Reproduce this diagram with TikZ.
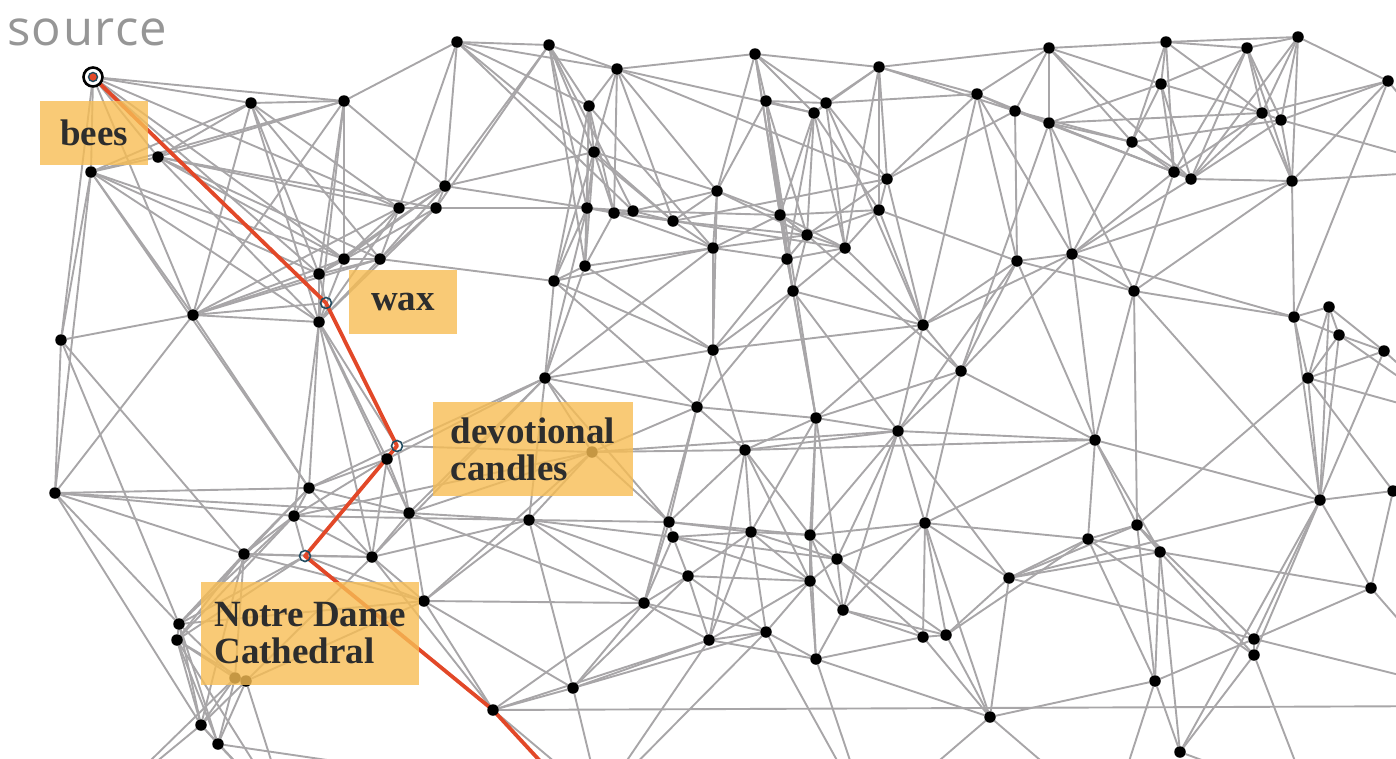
\documentclass[tikz,border=0pt]{standalone}
\usepackage{fontspec}
\setmainfont{Liberation Serif}
\newfontfamily\tagfont{Liberation Serif}
\newfontfamily\srcfont{Open Sans}[LetterSpace=3]
\usetikzlibrary{backgrounds}

\definecolor{linkgray}{RGB}{168,166,168}
\definecolor{routered}{RGB}{226,72,40}
\definecolor{tagfill}{RGB}{247,189,84}
\definecolor{tagtext}{RGB}{45,45,45}
\definecolor{srcgray}{RGB}{150,150,150}
\definecolor{ringteal}{RGB}{35,75,95}

\begin{document}
\begin{tikzpicture}[x=1pt, y=-1pt,
        dot/.style={circle, fill=black, minimum size=11.5pt, inner sep=0pt},
        hollow/.style={circle, draw=ringteal, line width=1.6pt, minimum size=11pt, inner sep=0pt},
        srcdot/.style={circle, draw=black, line width=2.6pt, fill=white, minimum size=19pt, inner sep=0pt,
                path picture={\draw[ringteal, line width=1.4pt, fill=routered] (path picture bounding box.center) circle (4.5pt);}},
        link/.style={draw=linkgray, line width=1.9pt},
        route/.style={draw=routered, line width=3.8pt, line join=round},
        tag/.style={fill=tagfill, fill opacity=0.8, text opacity=1, text=tagtext, inner sep=0pt,
                align=left, font=\tagfont\bfseries\fontsize{37}{37}\selectfont}]

    \useasboundingbox (0,0) rectangle (1396,758);

    % path nodes
    \node[srcdot] (s) at (93,77) {};
    \node[hollow] (w) at (326,303) {};
    \node[hollow] (dv) at (397,446) {};
    \node[hollow] (nd) at (305,556) {};
    \node[dot] (p1) at (493,710) {};
    \coordinate (rx) at (541,762);

    % all other nodes
    \foreach \n/\x/\y in {
            b1/251/103, b2/344/101, b3/158/157, b4/91/172, b5/445/186, b6/399/208, b7/436/208,
            b8/319/274, b9/344/259, b10/380/259, b11/319/322, b12/193/315, b13/61/340, b14/55/493,
            b15/387/459, b16/309/488, b17/294/516, b18/409/513, b19/244/554, b20/372/557, b21/424/601,
            b22/179/624, b23/177/640, b24/201/725, b25/218/744, k1/592/452, k2/235/678, k3/246/681,
            m1/457/42, m2/549/45, m3/617/69, m4/589/106, m5/594/152, m6/587/208, m7/614/213,
            m8/633/211, m9/673/221, m10/585/266, m11/554/281, m12/545/378, m13/529/520, m14/573/688,
            m15/644/603, m16/669/522, m17/673/537, m18/688/576, m19/697/407, m20/713/350, m21/713/248,
            m22/717/191,
            c2/755/54, c3/766/101, c4/814/113, c5/826/103, c6/879/67, c7/887/179, c8/879/210,
            c9/780/215, c10/807/235, c11/845/248, c12/787/259, c13/793/291, c14/923/325, c15/961/371,
            c16/816/418, c17/898/431, c18/745/450, c19/751/532, c20/810/535, c21/837/559, c22/810/581,
            c23/843/610, c24/766/632, c25/709/640, c26/816/659, c27/925/523, c28/923/637, c29/946/635,
            c30/990/717, c31/1009/578,
            r2/977/94, r3/1015/111, r4/1049/48, r5/1049/123, r6/1166/42, r7/1161/84, r8/1132/142,
            r9/1174/172, r10/1191/179, r11/1247/48, r12/1298/37, r13/1262/113, r14/1281/120,
            r15/1292/181, r16/1388/81, r17/1017/261, r18/1072/254, r19/1134/291, r20/1095/440,
            r21/1294/317, r22/1329/307, r23/1339/335, r24/1384/351, r25/1308/378, r26/1320/500,
            r27/1393/491, r28/1088/539, r29/1137/525, r30/1160/552, r31/1371/588, r32/1254/639,
            r33/1254/655, r34/1155/681, r35/1180/752}
        \node[dot] (\n) at (\x,\y) {};

    % ends outside the frame
    \foreach \n/\x/\y in {g1/110/800, g2/290/820, g3/600/800, g4/870/820, g5/1110/820,
            g6/1310/800, g7/1460/170, g8/1460/420, g9/1460/690, g10/1460/706}
        \coordinate (\n) at (\x,\y);

    \begin{pgfonlayer}{background}
        \foreach \a/\b in {
                s/b1, s/b2, s/b3, s/b4, s/b12, s/b13, s/b8, s/b9, s/b6,
                b1/b2, b1/b4, b1/b3, b1/b12, b1/b8, b1/b11, b1/b10, b1/b6,
                b2/m1, b2/b3, b2/b4, b2/b9, b2/b11, b2/b12, b2/b5, b2/b8,
                b3/b4, b3/b9, b3/b10, b3/b7, b3/b6, b3/b11,
                b4/b13, b4/b12, b4/b16, b4/b9, b4/b11, b4/b14, b4/b8,
                b5/m1, b5/m2, b5/b6, b5/b7, b5/b9, b5/b10, b5/m5, b5/m9, b5/b8,
                b6/b7, b6/b10, b6/b9, b6/m1, b6/b11, b6/b12,
                b7/m6, b7/b10, b7/m2, b7/b8, b7/b11,
                b8/b9, b8/b12, b8/w, b8/b10, b8/b11,
                b9/b10, b9/b12, b9/b11,
                b10/b11, b10/m11, b10/b12,
                b11/b12, b11/b16, b11/b17, b11/b15, b11/b20, b11/b18, b11/dv,
                b12/w, b12/b13, b12/b14, b12/b16,
                b13/b14, b13/b19, b13/b22,
                b14/b16, b14/b17, b14/b22, b14/b24, b14/b19, b14/b18,
                b16/b17, b16/b19, b16/b15, b16/dv, b16/b18, b16/b20, b16/b22,
                b17/b19, b17/nd, b17/b20, b17/b22, b17/b23, b17/m13, b17/k1,
                b15/dv, b15/b18, b15/b20, b15/b17, b15/m12,
                dv/m12, dv/b18, dv/k1,
                b18/b20, b18/b21, b18/m13, b18/m12, b18/k1, b18/m15,
                b19/nd, b19/b22, b19/b23, b19/k2, b19/b20, b19/b21, b19/b24,
                nd/b20, nd/b21, nd/b23, nd/b22,
                b20/b21, b20/m13, b20/p1, b20/k3, b20/m12,
                b21/m13, b21/p1, b21/m14, b21/m15, b21/k1, b21/k3, b21/b22,
                b22/b23, b22/k2, b22/b24, b22/b25,
                b23/k2, b23/k3, b23/b24, b23/b25, b23/g2,
                k2/k3, k2/b24, k2/b25, k2/g1,
                k3/b24, k3/b25, k3/g2,
                b24/b25, b24/g1, b24/g2,
                b25/g2, b25/g3,
                p1/m14, p1/m15, p1/c25, p1/g3, p1/g10,
                k1/m12, k1/m19, k1/c18, k1/m16, k1/m13, k1/c17}
            \draw[link] (\a) -- (\b);
        \foreach \a/\b in {
                m1/m2, m1/m3, m1/m4, m1/m9, m1/m8,
                m2/m3, m2/m4, m2/m5, m2/m6, m2/m8, m2/m10,
                m3/m4, m3/m5, m3/m7, m3/m9, m3/c2, m3/c4, m3/c7, m3/m22,
                m4/m5, m4/m6, m4/m10, m4/m11, m4/m7, m4/m21,
                m5/m6, m5/m7, m5/m9, m5/m10, m5/m11, m5/m22,
                m6/m7, m6/m8, m6/m10, m6/m11, m6/m12,
                m7/m8, m7/m9, m7/m10, m7/m21,
                m8/m9, m8/m22, m8/c9,
                m9/m22, m9/m21, m9/c7, m9/c10, m9/c11,
                m10/m11, m10/m12, m10/m21, m10/m20,
                m11/m12, m11/m20, m11/m19, m11/m21,
                m12/m19, m12/m13, m12/m20, m12/m21, m12/m16,
                m13/m14, m13/m16, m13/m15, m13/m17, m13/m18,
                m14/m15, m14/m18, m14/c25, m14/g3, m14/c24,
                m15/m16, m15/m17, m15/m18, m15/c25, m15/c24, m15/m19,
                m16/m17, m16/c19, m16/c18, m16/m19, m16/c20,
                m17/m18, m17/c19, m17/c21, m17/c22,
                m18/c19, m18/c24, m18/c25, m18/c22,
                m19/m20, m19/c18, m19/c16, m19/c13,
                m20/m21, m20/c12, m20/c13, m20/c14, m20/c18, m20/m22,
                m21/m22, m21/c9, m21/c12, m21/c10,
                m22/c9, m22/c3, m22/c2, m22/c10}
            \draw[link] (\a) -- (\b);
        \foreach \a/\b in {
                c2/c3, c2/c6, c2/c4, c2/c5, c2/c9, c2/c12,
                c3/c4, c3/c5, c3/c9, c3/c10, c3/c12, c3/c13, c3/c16,
                c4/c5, c4/c6, c4/c8, c4/c9, c4/c10, c4/c11, c4/c12,
                c5/c6, c5/c7, c5/c11, c5/r2, c5/c14,
                c6/r2, c6/r4, c6/c7, c6/c8, c6/c11, c6/r3,
                c7/c8, c7/r2, c7/r3, c7/c14, c7/c10,
                c8/c9, c8/c10, c8/c11, c8/c14, c8/r17,
                c9/c10, c9/c11, c9/c12, c9/c13,
                c10/c11, c10/c12, c10/c13, c10/c15,
                c11/c12, c11/c13, c11/c14,
                c12/c13, c12/c16,
                c13/c16, c13/c17, c13/c14,
                c14/c15, c14/c17, c14/r2, c14/r17, c14/r18, c14/c16,
                c15/c17, c15/r17, c15/r20, c15/c16, c15/c27, c15/r5, c15/r18,
                c16/c17, c16/c18, c16/c19, c16/c20, c16/c21, c16/c22,
                c17/c18, c17/c27, c17/c20, c17/c21, c17/r20, c17/c31, c17/c23, c17/r17,
                c18/c19, c18/c20, c18/c22, c18/c25, c18/r20,
                c19/c20, c19/c22, c19/c24, c19/c25, c19/c21,
                c20/c21, c20/c22, c20/c23, c20/c26, c20/c27,
                c21/c22, c21/c23, c21/c27, c21/c28, c21/c29,
                c22/c23, c22/c24, c22/c26, c22/c25,
                c23/c26, c23/c28, c23/c29, c23/c27,
                c24/c25, c24/c26, c24/g3, c24/g4,
                c25/c26, c25/g3,
                c26/c28, c26/c30, c26/g4,
                c27/c28, c27/c29, c27/c31, c27/c30, c27/r28,
                c28/c29, c28/c30,
                c29/c30, c29/c31, c29/r28,
                c30/c31, c30/g4, c30/g5, c30/r34,
                c31/r28, c31/r29, c31/r30, c31/r26, c31/g9}
            \draw[link] (\a) -- (\b);
        \foreach \a/\b in {
                r2/r3, r2/r4, r2/r5, r2/r17, r2/r18,
                r3/r4, r3/r5, r3/r8, r3/r17, r3/r9,
                r4/r5, r4/r6, r4/r7, r4/r8, r4/r10,
                r5/r7, r5/r8, r5/r9, r5/r10, r5/r18, r5/r19, r5/r13,
                r6/r7, r6/r11, r6/r12, r6/r8, r6/r9, r6/r13,
                r7/r8, r7/r9, r7/r10, r7/r13, r7/r11,
                r8/r9, r8/r10, r8/r18, r8/r14,
                r9/r10, r9/r11, r9/r13, r9/r18, r9/r19,
                r10/r15, r10/r13, r10/r14, r10/r11, r10/r12, r10/r18,
                r11/r12, r11/r13, r11/r14, r11/r15,
                r12/r13, r12/r14, r12/r16, r12/r15,
                r13/r14, r13/r15, r13/r16,
                r14/r15, r14/r16, r14/g7,
                r15/r16, r15/r18, r15/r19, r15/r21, r15/g7,
                r16/g7, r16/r21,
                r17/r18, r17/r19, r17/r20,
                r18/r19, r18/r20, r18/r21,
                r19/r20, r19/r21, r19/r29, r19/r26,
                r20/r28, r20/r29, r20/r30, r20/c27, r20/r26,
                r21/r22, r21/r25, r21/r23, r21/r26,
                r22/r23, r22/r24, r22/r25, r22/r26,
                r23/r24, r23/r25, r23/r26, r23/g8,
                r24/r25, r24/g8, r24/r26,
                r25/r26, r25/r27, r25/r29, r25/g8,
                r26/r27, r26/r31, r26/r32, r26/r33, r26/r35,
                r27/g8, r27/r31,
                r28/r29, r28/r30, r28/r34, r28/r33,
                r29/r30, r29/r32, r29/r34,
                r30/r33, r30/r34, r30/r35, r30/r31,
                r31/r32, r31/g9,
                r32/r33, r32/r34,
                r33/r35, r33/g6,
                r34/r35, r34/g5,
                r35/g6}
            \draw[link] (\a) -- (\b);

        % the red route
        \draw[route] (s.center) -- (w.center) -- (dv.center) -- (nd.center) -- (p1.center) -- (rx);
    \end{pgfonlayer}

    % labels
    \node[text=srcgray, font=\srcfont\fontsize{49}{49}\selectfont, anchor=base west, inner sep=0pt]
        (srclabel) at (7,45) {source};
    \node[tag, minimum width=108pt, minimum height=64pt] (bees) at (94,133) {bees};
    \node[tag, minimum width=108pt, minimum height=64pt] (wax) at (403,302) {wax};
    \node[tag, minimum width=200pt, minimum height=94pt] (candles) at (533,449) {devotional\\candles};
    \node[tag, minimum width=218pt, minimum height=103pt] (notredame) at (310,633) {Notre Dame\\Cathedral};
\end{tikzpicture}
\end{document}
